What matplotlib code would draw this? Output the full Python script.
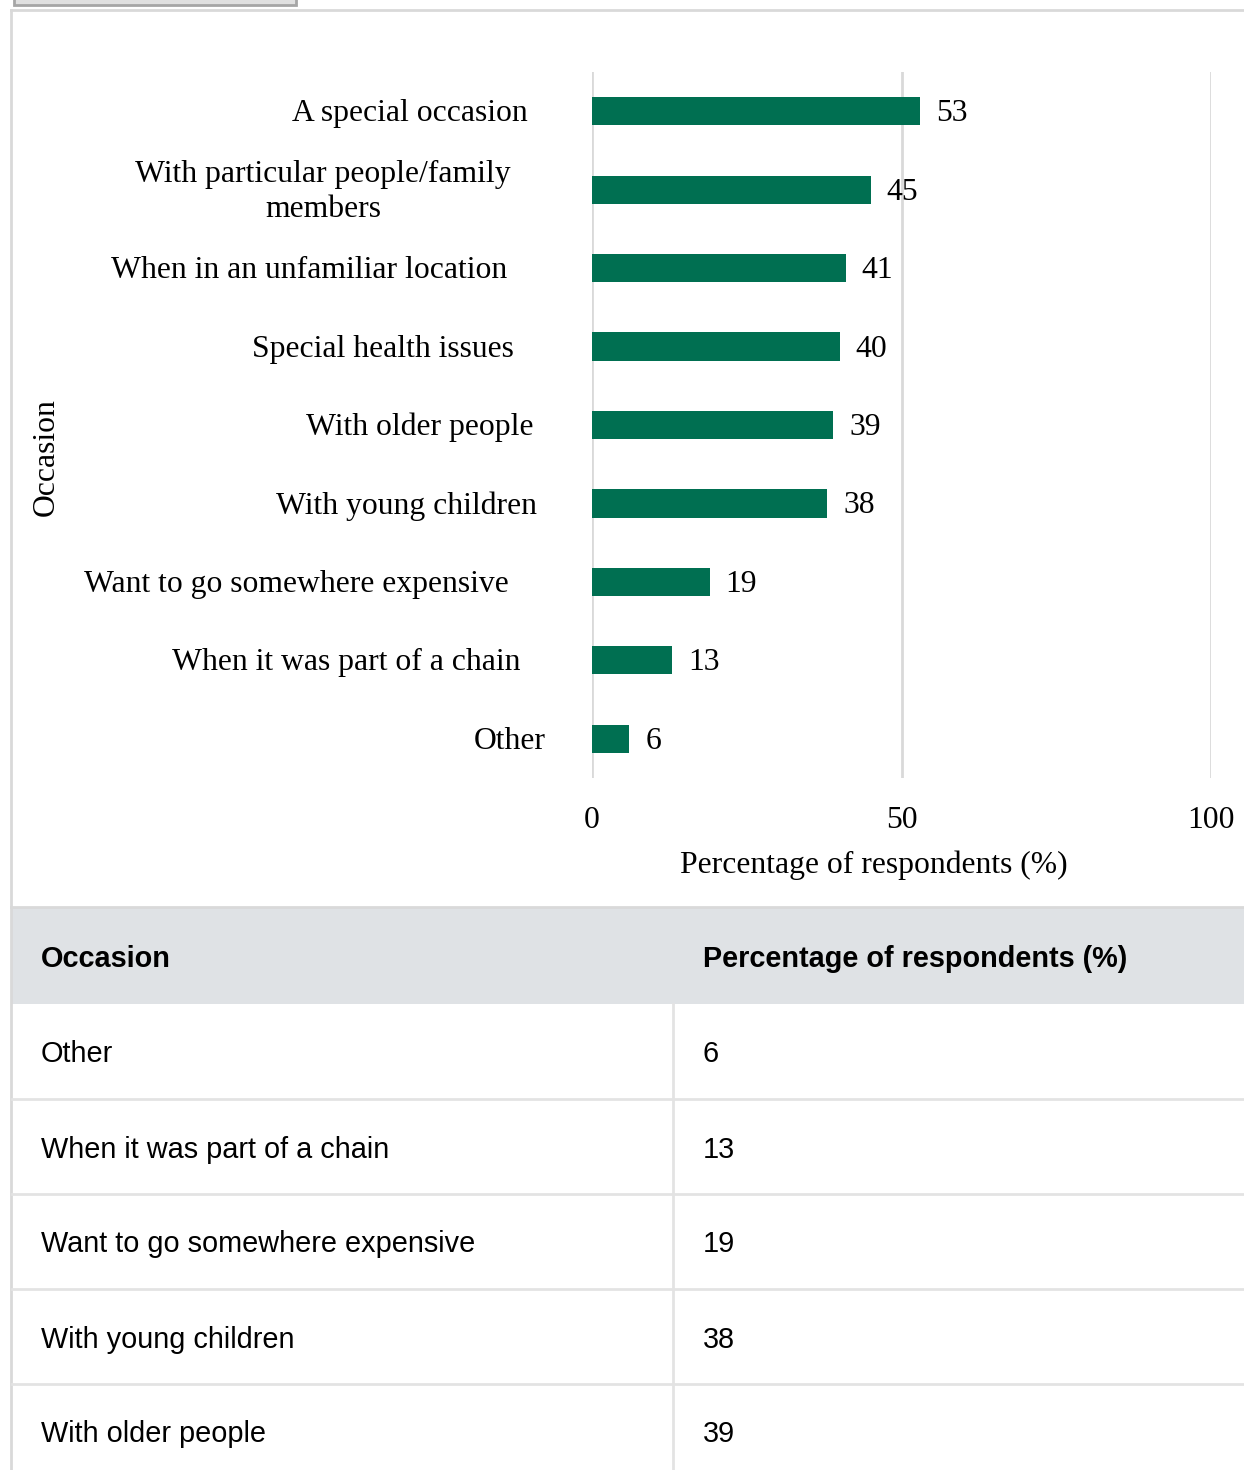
import matplotlib.pyplot as plt
from matplotlib.patches import Rectangle

# chart data (top to bottom as shown)
occasions = ["A special occasion",
             "With particular people/family\nmembers",
             "When in an unfamiliar location",
             "Special health issues",
             "With older people",
             "With young children",
             "Want to go somewhere expensive",
             "When it was part of a chain",
             "Other"]
percentages = [53, 45, 41, 40, 39, 38, 19, 13, 6]
x_ticks = [0, 50, 100]
table_header = ["Occasion", "Percentage of respondents (%)"]

# right edge of each category label in page pixels (the page sets them unevenly)
label_right = [528, 511, 507, 514, 534, 537, 509, 520, 546]

W, H = 1244, 1470
serif = "Liberation Serif"
sans = "Liberation Sans"
green = "#006f51"
grid_grey = "#d9d9d9"
line_grey = "#e3e3e3"
fs_chart = 22.8
fs_table = 20.8

fig = plt.figure(figsize=(W / 100, H / 100), dpi=100)

# page layer in pixel coordinates
bg = fig.add_axes([0, 0, 1, 1])
bg.set_xlim(0, W)
bg.set_ylim(H, 0)
bg.axis("off")

# grey button cut off at the top
bg.add_patch(Rectangle((14, -6), 282, 11, facecolor="#e0e0e0",
                       edgecolor="#a6a6a6", lw=2))
# chart box border
bg.plot([11, W], [10, 10], color=grid_grey, lw=2)
bg.plot([11, 11], [10, H], color=grid_grey, lw=2)

# chart
x0, x1, y0, y1 = 592, 1211, 72, 778
ax = fig.add_axes([x0 / W, 1 - y1 / H, (x1 - x0) / W, (y1 - y0) / H])
n = len(occasions)
ax.barh(range(n), percentages, height=0.36, color=green, zorder=3)
ax.set_xlim(0, 100)
ax.set_ylim(n - 0.5, -0.5)
ax.set_xticks(x_ticks)
ax.set_yticks([])
ax.grid(axis="x", color=grid_grey, lw=2, zorder=0)
for s in ax.spines.values():
    s.set_visible(False)
ax.tick_params(axis="x", length=0, pad=20, labelsize=fs_chart)
for t in ax.get_xticklabels():
    t.set_fontfamily(serif)

px_per_unit = (x1 - x0) / 100
dy = 2.5 / ((y1 - y0) / n)  # nudge text down a little, as on the page
for i, (lab, v) in enumerate(zip(occasions, percentages)):
    ax.text(v + 16 / px_per_unit, i + dy, str(v), va="center", ha="left",
            fontsize=fs_chart, family=serif, zorder=4)
    ax.text((label_right[i] - x0) / (x1 - x0), i + dy, lab,
            transform=ax.get_yaxis_transform(), ha="right", va="center",
            multialignment="center", fontsize=fs_chart, family=serif,
            linespacing=1.3)

bg.text(874, 865, "Percentage of respondents (%)", ha="center", va="center",
        fontsize=fs_chart, family=serif)
bg.text(46, 457, "Occasion", ha="center", va="center", rotation=90,
        fontsize=fs_chart, family=serif)

# table below the chart
top, head_h, row_h, col_x = 907, 97, 95, 673
bg.plot([11, W], [top, top], color=grid_grey, lw=2)
bg.add_patch(Rectangle((12, top), W - 12, head_h, facecolor="#dfe2e5",
                       edgecolor="none"))
bg.text(41, top + head_h / 2 + 3, table_header[0], ha="left", va="center",
        fontsize=fs_table, family=sans, weight="bold")
bg.text(703, top + head_h / 2 + 3, table_header[1], ha="left", va="center",
        fontsize=fs_table, family=sans, weight="bold")

rows = list(zip(occasions, percentages))[::-1]
start = top + head_h
bg.plot([col_x, col_x], [start, H], color=line_grey, lw=2)
for k, (lab, v) in enumerate(rows):
    yc = start + row_h * k + row_h / 2 + 3
    if yc + 20 > H:
        break
    bg.text(41, yc, lab.replace("\n", " "), ha="left", va="center",
            fontsize=fs_table, family=sans)
    bg.text(703, yc, str(v), ha="left", va="center", fontsize=fs_table,
            family=sans)
    yb = start + row_h * (k + 1)
    bg.plot([12, W], [yb, yb], color=line_grey, lw=2)

fig.savefig("out.png", dpi=100)
